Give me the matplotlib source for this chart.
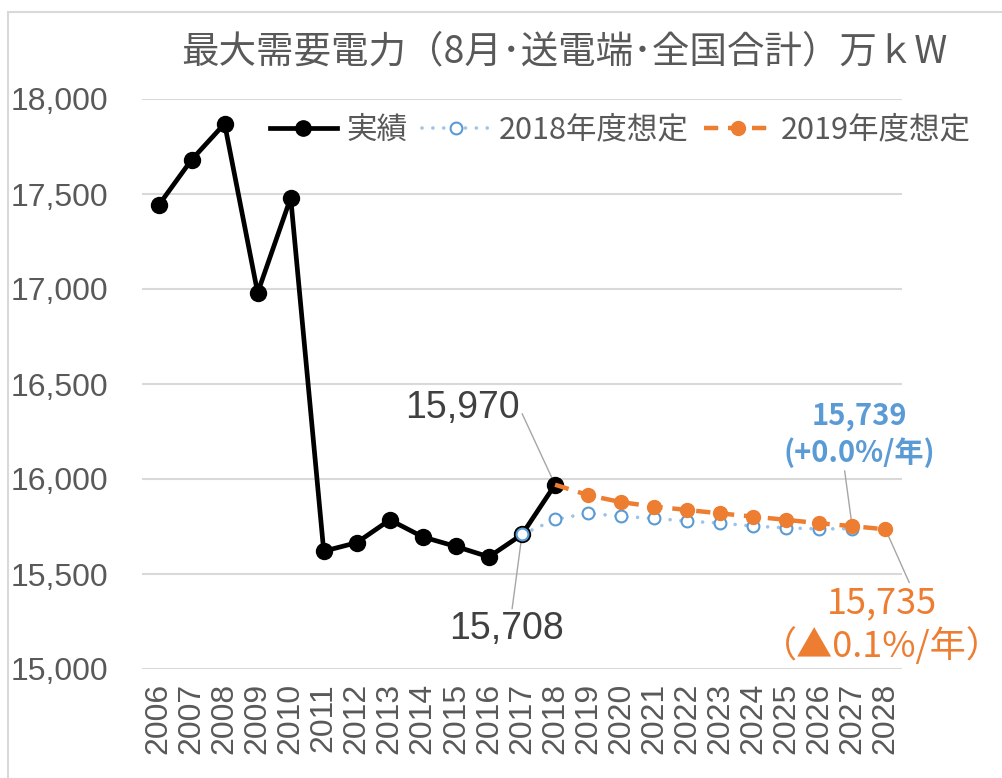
import matplotlib
matplotlib.use("Agg")
import matplotlib.pyplot as plt
from matplotlib.patches import Rectangle
from matplotlib.lines import Line2D

# Data
years = [str(y) for y in range(2006, 2029)]
actual = [17440, 17680, 17870, 16980, 17480, 15620, 15665, 15785, 15695,
          15645, 15590, 15708, 15970]  # 2006-2018
forecast_2018 = [15708, 15787, 15820, 15803, 15793, 15778, 15768, 15752,
                 15743, 15737, 15739]  # 2017-2027
forecast_2019 = [15970, 15915, 15878, 15855, 15837, 15819, 15802, 15785,
                 15767, 15752, 15735]  # 2018-2028
yticks = [15000, 15500, 16000, 16500, 17000, 17500, 18000]

title = "最大需要電力（8月･送電端･全国合計）万ｋW"
labels = ["実績", "2018年度想定", "2019年度想定"]

GRAY = "#595959"
BLUE = "#5B9BD5"
LIGHTBLUE = "#9DC3E6"
ORANGE = "#ED7D31"
CJK = ["Noto Sans CJK JP", "DejaVu Sans"]
NUM = ["Liberation Sans", "DejaVu Sans"]

fig = plt.figure(figsize=(10.02, 7.78), dpi=100)
W, H = 1002, 778
ax = fig.add_axes([142 / W, 1 - 669 / H, 760 / W, 570 / H])

x_act = list(range(0, len(actual)))
x_f18 = list(range(11, 11 + len(forecast_2018)))
x_f19 = list(range(12, 12 + len(forecast_2019)))

ax.plot(x_act, actual, color="black", lw=3.4, marker="o", ms=11.5,
        zorder=4, label=labels[0])
ax.plot(x_f18, forecast_2018, color=LIGHTBLUE, lw=2.6,
        linestyle=(0, (0.01, 3.0)), dash_capstyle="round",
        marker="o", ms=8.5, mfc="white", mec=BLUE, mew=1.5,
        zorder=5, label=labels[1])
ax.plot(x_f19, forecast_2019, color=ORANGE, lw=3.2,
        linestyle=(0, (3.2, 2.2)), marker="o", ms=10, mfc=ORANGE, mec=ORANGE,
        markevery=list(range(1, len(forecast_2019))),
        zorder=6, label=labels[2])

ax.set_xlim(-0.5, len(years) - 0.5)
ax.set_ylim(15000, 18000)
ax.set_xticks(range(len(years)))
ax.set_xticklabels(years, rotation=90, fontsize=23, family=NUM, color=GRAY)
ax.set_yticks(yticks)
ax.set_yticklabels([f"{v:,}" for v in yticks], fontsize=23, family=NUM,
                   color=GRAY)
ax.tick_params(axis="x", length=0, pad=10)
ax.tick_params(axis="y", length=0, pad=24)
for s in ax.spines.values():
    s.set_visible(False)
ax.grid(axis="y", color="#d9d9d9", lw=1.5)
ax.set_axisbelow(True)

fig.text(564 / W, 1 - 52 / H, title, ha="center", va="center",
         fontsize=27, family=CJK, color=GRAY)

# Legend
handles = [
    Line2D([], [], color="black", lw=3.4, marker="o", ms=11),
    Line2D([], [], color=LIGHTBLUE, lw=2.6, linestyle=(0, (0.01, 3.0)),
           dash_capstyle="round", marker="o", ms=8.5, mfc="white", mec=BLUE,
           mew=1.5),
    Line2D([], [], color=ORANGE, lw=3.2, linestyle=(0, (3.2, 2.2)),
           marker="o", ms=10),
]
leg = ax.legend(handles, labels, loc="center", ncol=3, frameon=False,
                bbox_to_anchor=(620 / W, 1 - 130 / H),
                bbox_transform=fig.transFigure,
                prop={"family": CJK, "size": 22},
                handlelength=2.2, handletextpad=0.3, columnspacing=0.5)
for t in leg.get_texts():
    t.set_color(GRAY)

# Data labels with leader lines
line_kw = dict(arrowstyle="-", color="#a6a6a6", lw=1.0, shrinkA=0, shrinkB=4)
ax.annotate(f"{actual[-1]:,}", xy=(x_act[-1], actual[-1]),
            xytext=(-93, 77), textcoords="offset pixels",
            ha="center", va="center", fontsize=27, family=NUM, color="#404040",
            arrowprops=dict(relpos=(1, 0.5), **line_kw))
ax.annotate(f"{actual[-2]:,}", xy=(x_act[-2], actual[-2]),
            xytext=(-16, -95), textcoords="offset pixels",
            ha="center", va="center", fontsize=27, family=NUM, color="#404040",
            arrowprops=dict(relpos=(0.55, 1), **line_kw))
ax.annotate(f"{forecast_2018[-1]:,}\n(+0.0%/年)",
            xy=(x_f18[-1], forecast_2018[-1]),
            xytext=(7, 94), textcoords="offset pixels",
            ha="center", va="center", multialignment="center",
            fontsize=21, family=CJK, color=BLUE, fontweight="bold",
            linespacing=1.25,
            arrowprops=dict(relpos=(0.4, 0), **line_kw))
ax.annotate(f"{forecast_2019[-1]:,}\n（▲0.1%/年）",
            xy=(x_f19[-1], forecast_2019[-1]),
            xytext=(-4, -96), textcoords="offset pixels",
            ha="center", va="center", multialignment="center",
            fontsize=26, family=CJK, color=ORANGE, linespacing=1.2,
            arrowprops=dict(relpos=(0.62, 1), **line_kw))

# Chart area border
fig.patches.append(Rectangle((8 / W, -0.05), 1.2, 1 - 12 / H + 0.05,
                             transform=fig.transFigure, fill=False,
                             edgecolor="#d9d9d9", lw=1.5))

fig.savefig("out.png", dpi=100)
